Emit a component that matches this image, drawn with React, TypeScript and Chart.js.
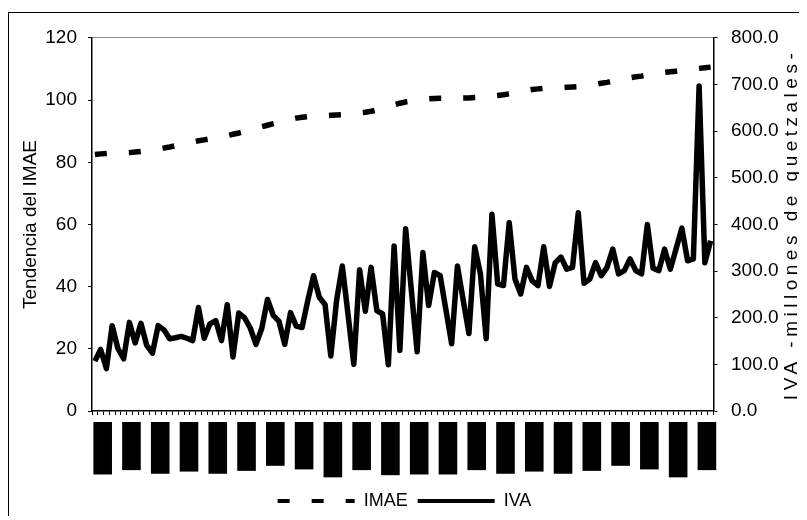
import React, { useEffect, useRef } from 'react';
import { Chart, registerables } from 'chart.js';

Chart.register(...registerables);

const FONT = "'Liberation Sans', Arial, Helvetica, sans-serif";

const MONTHS = ['ene', 'feb', 'mar', 'abr', 'may', 'jun', 'jul', 'ago', 'sep', 'oct', 'nov', 'dic'];
const YEARS = ['95', '96', '97', '98', '99', '00', '01', '02', '03'];
const CATEGORIES = YEARS.flatMap((y) => MONTHS.map((m) => `${m}-${y}`));
const LABEL_EVERY = 5;

const LEFT_TITLE = 'Tendencia del IMAE';
const RIGHT_TITLE = 'IVA -millones de quetzales-';
const LEFT_TICKS = { min: 0, max: 120, step: 20 };
const RIGHT_TICKS = { min: 0, max: 800, step: 100 };

const IMAE = [
  82.5, 82.7, 82.8, 82.9, 83.0, 83.0, 83.1, 83.3, 83.5, 83.8,
  84.1, 84.4, 84.6, 84.9, 85.3, 85.7, 86.1, 86.5, 86.9, 87.2,
  87.5, 87.9, 88.3, 88.6, 89.0, 89.4, 89.9, 90.4, 90.9, 91.4,
  91.9, 92.4, 92.9, 93.4, 93.8, 94.2, 94.5, 94.7, 94.8, 94.9,
  95.0, 95.1, 95.2, 95.3, 95.5, 95.7, 95.9, 96.1, 96.4, 96.8,
  97.3, 97.9, 98.5, 99.0, 99.4, 99.7, 100.0, 100.2, 100.4, 100.5,
  100.6, 100.6, 100.6, 100.7, 100.7, 100.7, 100.8, 100.9, 101.1, 101.3,
  101.5, 101.7, 102.0, 102.4, 102.8, 103.1, 103.4, 103.6, 103.8, 103.9,
  104.0, 104.0, 104.1, 104.2, 104.3, 104.5, 104.8, 105.1, 105.4, 105.7,
  106.1, 106.5, 106.9, 107.2, 107.5, 107.7, 108.0, 108.3, 108.6, 108.9,
  109.1, 109.3, 109.5, 109.8, 110.0, 110.2, 110.4, 110.6,
];

const IVA = [
  107, 132, 91, 183, 134, 112, 190, 146, 188, 141,
  124, 183, 174, 155, 157, 160, 156, 151, 222, 156,
  187, 194, 151, 228, 116, 210, 200, 178, 143, 177,
  239, 205, 192, 143, 211, 182, 179, 237, 290, 244,
  228, 118, 237, 311, 206, 100, 303, 214, 308, 215,
  208, 99, 354, 130, 391, 258, 127, 340, 226, 297,
  290, 217, 144, 311, 238, 166, 352, 294, 155, 422,
  272, 269, 404, 283, 251, 308, 279, 269, 352, 267,
  318, 330, 304, 308, 425, 274, 283, 318, 290, 308,
  347, 294, 301, 326, 301, 294, 400, 306, 301, 347,
  304, 348, 392, 322, 326, 697, 318, 365,
];

const rightTitlePlugin = {
  id: 'rightTitle',
  afterDraw(chart: any) {
    const s = chart.scales.y1;
    const { ctx, chartArea } = chart;
    ctx.save();
    ctx.font = `19px ${FONT}`;
    ctx.fillStyle = '#000';
    if ('letterSpacing' in ctx) (ctx as any).letterSpacing = '4.5px';
    ctx.translate(s.right - 8, (chartArea.top + chartArea.bottom) / 2);
    ctx.rotate(-Math.PI / 2);
    ctx.textAlign = 'center';
    ctx.textBaseline = 'middle';
    ctx.fillText(RIGHT_TITLE, 0, 0);
    ctx.restore();
  },
};

export default function App() {
  const ref = useRef<HTMLCanvasElement>(null);

  useEffect(() => {
    const chart = new Chart(ref.current as HTMLCanvasElement, {
      type: 'line',
      data: {
        labels: CATEGORIES,
        datasets: [
          {
            label: 'IMAE',
            data: IMAE,
            yAxisID: 'y',
            borderColor: '#000',
            backgroundColor: '#000',
            borderWidth: 5.5,
            borderDash: [12, 22],
            borderCapStyle: 'butt',
            pointRadius: 0,
            tension: 0,
          },
          {
            label: 'IVA',
            data: IVA,
            yAxisID: 'y1',
            borderColor: '#000',
            backgroundColor: '#000',
            borderWidth: 5.5,
            borderJoinStyle: 'round',
            pointRadius: 0,
            tension: 0,
          },
        ],
      },
      options: {
        animation: false,
        responsive: false,
        maintainAspectRatio: false,
        layout: { padding: { top: 23, left: 0, right: 0, bottom: 0 } },
        plugins: {
          tooltip: { enabled: false },
          legend: {
            position: 'bottom',
            labels: {
              usePointStyle: true,
              pointStyle: 'line',
              pointStyleWidth: 77,
              color: '#000',
              padding: 10,
              font: { family: FONT, size: 18 },
              generateLabels: (c: any) =>
                Chart.defaults.plugins.legend.labels.generateLabels(c).map((l: any) => ({
                  ...l,
                  lineWidth: 4,
                  strokeStyle: '#000',
                  fillStyle: '#000',
                  lineDash: (c.data.datasets[l.datasetIndex] as any).borderDash || [],
                })),
            },
          },
        },
        scales: {
          x: {
            type: 'category',
            offset: true,
            grid: {
              display: true,
              offset: true,
              drawOnChartArea: false,
              drawTicks: true,
              tickLength: 4,
              color: '#000',
              tickColor: '#000',
              lineWidth: 1,
            },
            border: { display: true, color: '#000', width: 1.5 },
            ticks: {
              autoSkip: false,
              minRotation: 90,
              maxRotation: 90,
              padding: 10,
              color: '#000',
              font: { family: FONT, size: 13 },
              callback: (_v: any, i: number) => (i % LABEL_EVERY === 0 ? CATEGORIES[i] : ''),
              showLabelBackdrop: (ctx: any) => ctx.index % LABEL_EVERY === 0,
              backdropColor: '#000',
              backdropPadding: { top: 1.5, bottom: 1.5, left: 9, right: 3 },
            } as any,
            afterFit: (s: any) => {
              s.height = 71;
            },
          },
          y: {
            position: 'left',
            min: LEFT_TICKS.min,
            max: LEFT_TICKS.max,
            ticks: {
              stepSize: LEFT_TICKS.step,
              color: '#000',
              padding: 11,
              font: { family: FONT, size: 19 },
            },
            grid: {
              drawOnChartArea: true,
              color: (c: any) => (c.tick && c.tick.value === LEFT_TICKS.max ? '#8c8c8c' : 'rgba(0,0,0,0)'),
              tickColor: '#000',
              tickLength: 4,
            },
            border: { display: true, color: '#000', width: 1.5 },
            title: {
              display: true,
              text: LEFT_TITLE,
              color: '#000',
              font: { family: FONT, size: 19 },
              padding: { top: 10, bottom: 0 },
            },
            afterFit: (s: any) => {
              s.width = 83;
            },
          },
          y1: {
            position: 'right',
            min: RIGHT_TICKS.min,
            max: RIGHT_TICKS.max,
            ticks: {
              stepSize: RIGHT_TICKS.step,
              color: '#000',
              padding: 13.5,
              font: { family: FONT, size: 19 },
              callback: (v: any) => Number(v).toFixed(1),
            },
            grid: {
              drawOnChartArea: false,
              color: '#000',
              tickColor: '#000',
              tickLength: 4,
            },
            border: { display: true, color: '#000', width: 1.5 },
            afterFit: (s: any) => {
              s.width = 86.5;
            },
          },
        },
      } as any,
      plugins: [rightTitlePlugin],
    });
    return () => chart.destroy();
  }, []);

  return (
    <div
      style={{
        position: 'relative',
        top: 4,
        width: 791,
        height: 507,
        borderLeft: '1px solid #000',
        borderTop: '1px solid #000',
        borderRight: '1px solid #000',
      }}
    >
      <canvas ref={ref} width={791} height={507} style={{ display: 'block' }} />
    </div>
  );
}
